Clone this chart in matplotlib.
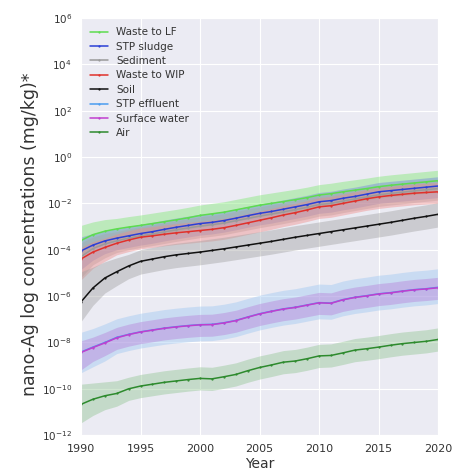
import numpy as np
import matplotlib
matplotlib.use("Agg")
import matplotlib.pyplot as plt
import seaborn as sns

years = list(range(1990, 2021))

# median log10 concentrations
lf_mid = [-3.6, -3.35, -3.2, -3.1, -3.02, -2.95, -2.87, -2.79, -2.71, -2.62, -2.52,
          -2.45, -2.38, -2.28, -2.18, -2.08, -2.0, -1.92, -1.84, -1.75, -1.64,
          -1.58, -1.5, -1.43, -1.36, -1.28, -1.22, -1.17, -1.12, -1.07, -1.02]
sludge_mid = [-4.05, -3.8, -3.62, -3.5, -3.4, -3.3, -3.22, -3.12, -3.03, -2.95, -2.87,
              -2.82, -2.74, -2.64, -2.53, -2.43, -2.35, -2.25, -2.15, -2.05, -1.93,
              -1.88, -1.78, -1.7, -1.6, -1.5, -1.45, -1.4, -1.35, -1.3, -1.25]
sed_mid = [-4.3, -3.95, -3.75, -3.62, -3.5, -3.4, -3.32, -3.23, -3.14, -3.06, -2.98,
           -2.92, -2.85, -2.75, -2.65, -2.55, -2.46, -2.37, -2.27, -2.17, -2.05,
           -2.0, -1.9, -1.81, -1.72, -1.63, -1.57, -1.52, -1.46, -1.41, -1.36]
wip_mid = [-4.4, -4.1, -3.9, -3.72, -3.58, -3.46, -3.4, -3.33, -3.27, -3.22, -3.17,
           -3.12, -3.05, -2.95, -2.84, -2.73, -2.62, -2.5, -2.4, -2.28, -2.15,
           -2.1, -2.0, -1.9, -1.8, -1.72, -1.66, -1.61, -1.56, -1.53, -1.5]
soil_mid = [-6.25, -5.65, -5.22, -4.95, -4.7, -4.5, -4.4, -4.3, -4.22, -4.16, -4.1,
            -4.03, -3.96, -3.88, -3.8, -3.72, -3.64, -3.55, -3.46, -3.38, -3.3,
            -3.22, -3.14, -3.06, -2.98, -2.9, -2.82, -2.73, -2.64, -2.56, -2.47]
eff_mid = [-8.41, -8.2, -8.0, -7.78, -7.65, -7.54, -7.46, -7.38, -7.32, -7.27, -7.23,
           -7.22, -7.15, -7.05, -6.9, -6.76, -6.65, -6.55, -6.48, -6.38, -6.28,
           -6.3, -6.15, -6.05, -5.98, -5.9, -5.85, -5.78, -5.72, -5.68, -5.62]
surf_mid = [-8.43, -8.22, -8.02, -7.8, -7.66, -7.55, -7.47, -7.39, -7.33, -7.28, -7.24,
            -7.23, -7.16, -7.06, -6.91, -6.77, -6.66, -6.56, -6.49, -6.39, -6.29,
            -6.31, -6.16, -6.06, -5.99, -5.91, -5.86, -5.79, -5.73, -5.69, -5.64]
air_mid = [-10.67, -10.45, -10.3, -10.2, -10.0, -9.88, -9.8, -9.72, -9.66, -9.6, -9.55,
           -9.57, -9.48, -9.38, -9.22, -9.08, -8.97, -8.85, -8.8, -8.7, -8.58,
           -8.56, -8.45, -8.33, -8.27, -8.2, -8.12, -8.05, -8.0, -7.95, -7.87]

# band spread (decades below / above the median)
lf_lo = [0.7, 0.6, 0.55] + [0.5] * 28
lf_hi = [0.65, 0.55, 0.5] + [0.45] * 28
sludge_lo = [0.8, 0.65, 0.55] + [0.5] * 28
sludge_hi = [0.6, 0.5, 0.45] + [0.4] * 28
sed_lo = [0.9, 0.7, 0.6] + [0.5] * 28
sed_hi = [0.6, 0.5, 0.45] + [0.4] * 28
wip_lo = [0.9, 0.7, 0.6] + [0.5] * 28
wip_hi = [0.5, 0.45, 0.4] + [0.4] * 28
soil_lo = [0.85, 0.75, 0.65, 0.6] + [0.55] * 27
soil_hi = [1.3, 0.9, 0.7, 0.6] + [0.5] * 27
eff_lo = [0.9, 0.85, 0.8] + [0.7] * 28
eff_hi = [0.85, 0.8, 0.8] + [0.8] * 28
surf_lo = [0.75, 0.6, 0.55] + [0.5] * 28
surf_hi = [0.5, 0.45, 0.45] + [0.45] * 28
air_lo = [0.8, 0.7, 0.6, 0.55] + [0.5] * 27
air_hi = [0.87, 0.7, 0.6, 0.55] + [0.5] * 27

series = [
    ("Waste to LF", lf_mid, lf_lo, lf_hi, "#5ddc4f", "#7be86e"),
    ("STP sludge", sludge_mid, sludge_lo, sludge_hi, "#2b3fd6", "#6f7fe0"),
    ("Sediment", sed_mid, sed_lo, sed_hi, "#9a9a9a", "#a8a8a8"),
    ("Waste to WIP", wip_mid, wip_lo, wip_hi, "#e0312b", "#f08a86"),
    ("Soil", soil_mid, soil_lo, soil_hi, "#111111", "#a0a0a0"),
    ("STP effluent", eff_mid, eff_lo, eff_hi, "#4a9cf0", "#9cc6f2"),
    ("Surface water", surf_mid, surf_lo, surf_hi, "#c03fcf", "#b77fd8"),
    ("Air", air_mid, air_lo, air_hi, "#2d8a2d", "#8fc48f"),
]

sns.set_style("darkgrid")
plt.rcParams['font.family'] = ['DejaVu Sans']

fig = plt.figure(figsize=(4.55, 4.72), dpi=100)
ax = fig.add_axes([0.178, 0.078, 0.785, 0.884])
ax.set_facecolor('#ebebf3')

x = np.array(years)
for name, mid, lo, hi, col, band in series:
    m = np.array(mid)
    ax.fill_between(x, 10 ** (m - np.array(lo)), 10 ** (m + np.array(hi)),
                    color=band, alpha=0.42, lw=0)
    ax.plot(x, 10 ** m, color=col, lw=1.1, marker='.', ms=1.2, label=name)

ax.set_yscale('log')
ax.set_ylim(1e-12, 1e6)
ax.set_xlim(1990, 2020)
ax.set_yticks([10.0 ** k for k in range(-12, 7, 2)])
ax.yaxis.set_minor_locator(matplotlib.ticker.NullLocator())
ax.set_xticks([1990, 1995, 2000, 2005, 2010, 2015, 2020])
ax.tick_params(axis='x', labelsize=8, pad=3, colors='#333333')
ax.tick_params(axis='y', labelsize=7.5, pad=3, colors='#333333')
ax.set_xlabel('Year', fontsize=10, labelpad=2, color='#333333')
ax.set_ylabel('nano-Ag log concentrations (mg/kg)*', fontsize=12.5, color='#333333')
ax.yaxis.set_label_coords(-0.118, 0.482)

leg = ax.legend(loc='upper left', fontsize=7.5, frameon=False, handlelength=1.7,
                labelspacing=0.42, borderaxespad=0.5)
for t in leg.get_texts():
    t.set_color('#333333')

fig.savefig('out.png', dpi=100)
